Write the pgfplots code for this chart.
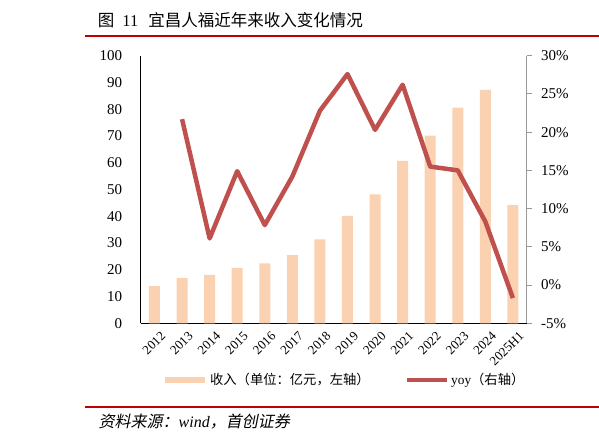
\documentclass[border=0pt]{standalone}
\usepackage{fontspec}
\setmainfont{Liberation Serif}
\newfontfamily\cjk{Noto Sans CJK SC}
\newfontfamily\cjkit[FakeSlant=0.2]{Noto Sans CJK SC}
\usepackage{pgfplots}
\pgfplotsset{compat=1.18}
\definecolor{barc}{RGB}{250,210,178}
\definecolor{linec}{RGB}{192,80,77}
\definecolor{rulec}{RGB}{192,0,0}
\begin{document}
\begin{tikzpicture}[x=1pt,y=1pt]
\path[use as bounding box] (0,0) rectangle (599,442);
\node[anchor=base west, inner sep=0pt, font=\fontsize{16.5}{18}\selectfont] at (97.7,415.3) {{\cjk 图}\hspace{8pt}11\hspace{10pt}{\cjk 宜昌人福近年来收入变化情况}};
\draw[rulec, line width=1.8pt] (85,406.3) -- (599,406.3);
\draw[rulec, line width=1.8pt] (85,35.3) -- (599,35.3);
\node[anchor=base west, inner sep=0pt, font=\fontsize{16}{18}\selectfont] at (98.5,15) {{\cjkit 资料来源：}\textit{wind}{\cjkit ，首创证券}};

\begin{axis}[at={(140.7pt,118.7pt)}, anchor=south west, scale only axis,
  width=386pt, height=267.6pt,
  xmin=-0.5, xmax=13.5, ymin=0, ymax=100,
  axis x line*=bottom, axis y line*=left,
  axis line style={-, black, line width=1.2pt},
  ytick={0,10,...,100}, major tick length=0pt,
  xtick={0,...,13},
  xticklabels={2012,2013,2014,2015,2016,2017,2018,2019,2020,2021,2022,2023,2024,2025H1},
  x tick label style={rotate=45, anchor=north east, xshift=2.2pt, yshift=-5.6pt, font=\fontsize{13}{14}\selectfont},
  y tick label style={font=\fontsize{15}{16}\selectfont, xshift=-15pt},
  /pgf/number format/assume math mode=true,
  ybar, bar width=11pt,
]
\addplot[fill=barc, draw=none] coordinates {
(0,13.9) (1,16.9) (2,18.1) (3,20.7) (4,22.4) (5,25.5) (6,31.4) (7,40.1)
(8,48.2) (9,60.7) (10,70.1) (11,80.6) (12,87.2) (13,44.2)};
\end{axis}

\begin{axis}[at={(140.7pt,118.7pt)}, anchor=south west, scale only axis,
  width=386pt, height=267.6pt,
  xmin=-0.5, xmax=13.5, ymin=-5, ymax=30,
  axis x line=none, axis y line*=right,
  y axis line style={-, black!40, line width=1.2pt},
  ytick={-5,0,...,30},
  yticklabel={\pgfmathprintnumber{\tick}\%},
  tick align=outside, major tick length=5pt,
  tick style={black!40, line width=1pt},
  y tick label style={font=\fontsize{15}{16}\selectfont, xshift=6pt},
  /pgf/number format/assume math mode=true,
  legend columns=2,
  legend style={draw=none, fill=none, inner sep=0pt, at={(0.055,-0.212)}, anchor=west,
    font=\fontsize{13.3}{15}\selectfont,
    /tikz/every even column/.append style={column sep=33pt}},
  legend image code/.code={\draw[#1] (0pt,0pt) -- (40pt,0pt);},
]
\addlegendimage{line width=6pt, barc}
\addlegendentry{{\cjk 收入（单位：亿元，左轴）}}
\addplot[linec, line width=4.5pt, line join=round, mark=none] coordinates {
(1,21.7) (2,6.1) (3,14.9) (4,7.85) (5,14.2) (6,22.8) (7,27.6)
(8,20.3) (9,26.2) (10,15.5) (11,15.0) (12,8.3) (13,-1.7)};
\addlegendentry{yoy{\cjk （右轴）}}
\end{axis}
\end{tikzpicture}
\end{document}
